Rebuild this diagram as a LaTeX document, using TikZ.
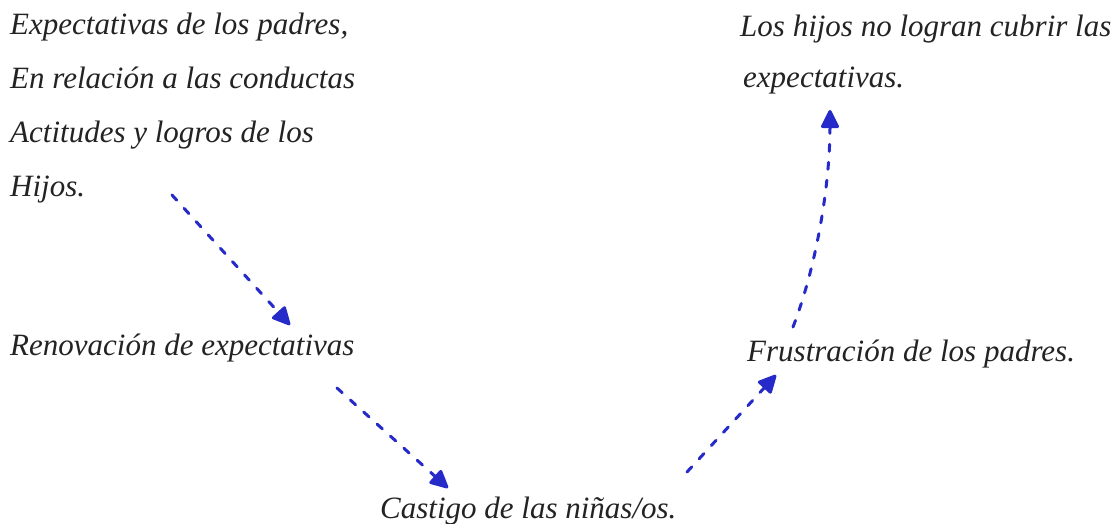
\documentclass[tikz,border=0pt]{standalone}
\usepackage{fontspec}
\setmainfont{Liberation Serif}[ItalicFont={Liberation Serif Italic}]
\newfontfamily\tmsit{Liberation Serif Italic}
\usetikzlibrary{arrows.meta}
\definecolor{inkblue}{RGB}{38,42,200}
\definecolor{txt}{RGB}{35,35,35}
\tikzset{
  lbl/.style={anchor=base west, inner sep=0pt, text=txt,
    font=\fontsize{31}{54}\selectfont\tmsit},
  arr/.style={draw=inkblue, line width=3pt, dash pattern=on 7pt off 11pt,
    -{Triangle[length=20pt,width=19pt,round]}, line cap=round}
}
\begin{document}
\begin{tikzpicture}[x=1pt,y=-1pt]
\useasboundingbox (0,0) rectangle (1118,524);
\node[lbl] (expect) at (10,35) {\begin{tabular}[t]{@{}l@{}}Expectativas de los padres,\\ En relación a las conductas\\ Actitudes y logros de los\\ Hijos.\end{tabular}};
\node[lbl] (renov) at (10,355) {Renovación de expectativas};
\node[lbl] (castigo) at (380,518) {Castigo de las niñas/os.};
\node[lbl] (frust) at (747,361) {Frustración de los padres.};
\node[lbl] (nolog) at (740,37) {\begin{tabular}[t]{@{}l@{}}Los hijos no logran cubrir las\\[-3pt] \hspace{3pt}expectativas.\end{tabular}};
\draw[arr] ([shift={(162,160)}]expect.base west) -- ([shift={(280,-30)}]renov.base west);
\draw[arr] ([shift={(327,33)}]renov.base west) -- ([shift={(68,-30)}]castigo.base west);
\draw[arr] ([shift={(307,-46)}]castigo.base west) -- ([shift={(29,14)}]frust.base west);
\draw[arr] ([shift={(46,-34)}]frust.base west) .. controls ([shift={(71,-99)}]frust.base west) and ([shift={(90,143)}]nolog.base west) .. ([shift={(90,73)}]nolog.base west);
\end{tikzpicture}
\end{document}
